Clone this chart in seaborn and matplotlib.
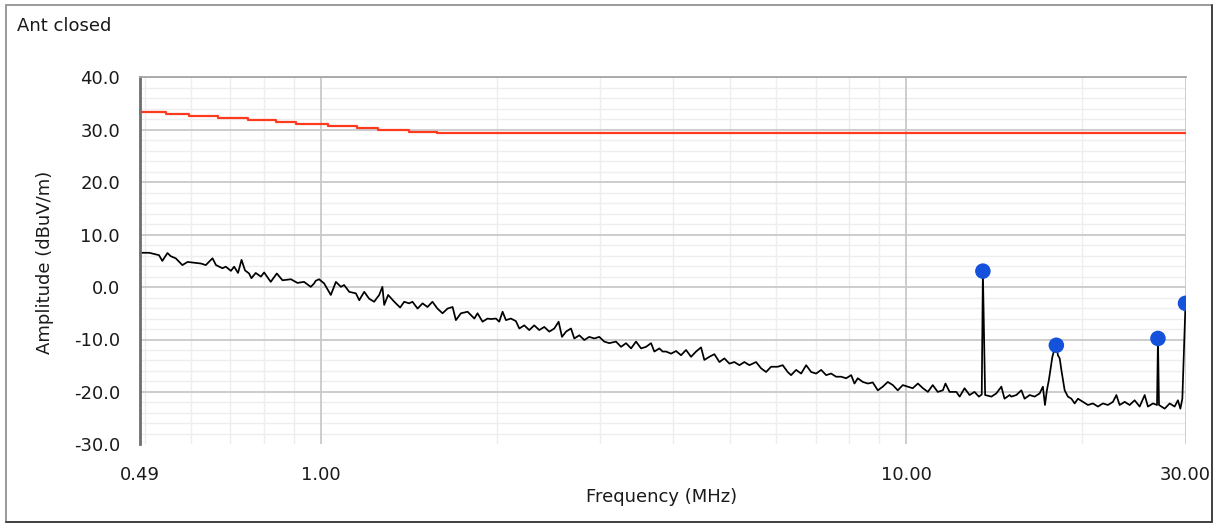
"""Ant closed: radiated emission scan (0.49-30 MHz) with limit line and peaks."""
import seaborn as sns
import matplotlib.pyplot as plt
from matplotlib.lines import Line2D
from matplotlib.ticker import FixedLocator, NullFormatter, MultipleLocator


############################## Data.

# Measured trace (MHz, dBuV/m).
trace_freq = [
    0.49, 0.509, 0.529, 0.536, 0.547, 0.554, 0.565, 0.580, 0.592, 0.624,
    0.636, 0.653, 0.662, 0.679, 0.688, 0.702, 0.711, 0.722, 0.732, 0.742,
    0.754, 0.761, 0.774, 0.790, 0.800, 0.821, 0.841, 0.860, 0.889, 0.912,
    0.936, 0.961, 0.974,
    0.980, 0.993, 1.013, 1.040, 1.061, 1.082, 1.096, 1.118, 1.148, 1.163,
    1.186, 1.209, 1.233, 1.258, 1.274, 1.283, 1.303, 1.335, 1.366, 1.388,
    1.415, 1.434, 1.463, 1.492, 1.521, 1.551, 1.582, 1.614, 1.646, 1.679,
    1.701, 1.735, 1.781, 1.829, 1.852, 1.889, 1.927,
    1.952, 1.991, 2.017, 2.044, 2.071, 2.112, 2.154, 2.183, 2.226, 2.270,
    2.315, 2.361, 2.408, 2.456, 2.505, 2.548, 2.582, 2.623, 2.675, 2.710,
    2.764, 2.819, 2.874, 2.932, 2.990, 3.049, 3.110, 3.193, 3.257, 3.322,
    3.388, 3.455, 3.524, 3.594, 3.665, 3.713, 3.787, 3.836,
    3.888, 3.965, 4.044, 4.124, 4.206, 4.290, 4.375, 4.462, 4.520, 4.610,
    4.702, 4.796, 4.891, 4.988, 5.087, 5.188, 5.291, 5.396, 5.540, 5.650,
    5.763, 5.877, 6.032, 6.152, 6.274, 6.358, 6.486, 6.614, 6.746, 6.880,
    7.017, 7.156, 7.298, 7.443, 7.590,
    7.742, 7.895, 8.054, 8.158, 8.266, 8.430, 8.598, 8.768, 8.943, 9.120,
    9.301, 9.487, 9.674, 9.867, 10.06, 10.26, 10.47, 10.68, 10.89, 11.10,
    11.32, 11.55, 11.67, 11.86, 12.18, 12.34, 12.58, 12.83, 13.08, 13.31,
    13.46, 13.52, 13.58, 13.64, 13.98, 14.25, 14.54, 14.72, 15.02,
    15.12, 15.42, 15.73, 15.93, 16.25, 16.57, 16.90, 17.12, 17.26, 17.39,
    17.53, 17.63, 17.77, 17.93, 18.05, 18.16, 18.29, 18.41, 18.53, 18.65,
    18.89, 19.15, 19.40, 19.65, 20.04, 20.44, 20.84, 21.26, 21.68, 22.11,
    22.55, 22.86, 23.15, 23.62, 24.08, 24.56, 25.05, 25.55, 25.88, 26.40,
    26.82, 26.92, 27.03, 27.64, 28.19, 28.74, 29.12, 29.40, 29.63, 30.0,
]
trace_amp = [
    6.55, 6.55, 6.1, 5.0, 6.5, 5.9, 5.5, 4.2, 4.8, 4.5,
    4.2, 5.5, 4.2, 3.6, 3.9, 3.1, 3.9, 2.7, 5.2, 3.2,
    2.6, 1.7, 2.7, 2.0, 2.8, 1.0, 2.6, 1.3, 1.5, 0.8,
    1.0, 0.05, 0.7,
    1.2, 1.5, 0.7, -1.5, 1.0, 0.05, 0.4, -0.9, -1.2, -2.5,
    -0.9, -2.2, -2.8, -1.5, 0.05, -3.4, -1.5, -2.8, -3.9, -2.8,
    -3.1, -2.8, -4.1, -3.1, -3.8, -2.8, -4.1, -5.0, -4.1, -3.8,
    -6.3, -5.0, -4.7, -6.0, -5.0, -6.6, -6.0,
    -6.1, -6.0, -6.6, -4.7, -6.3, -6.0, -6.5, -7.9, -7.3, -8.2,
    -7.3, -8.2, -7.6, -8.5, -7.9, -6.6, -9.5, -8.5, -7.9, -9.8,
    -9.2, -10.1, -9.5, -9.8, -9.5, -10.4, -10.7, -10.4, -11.4, -10.7,
    -11.7, -10.4, -11.7, -11.4, -10.7, -12.3, -11.7, -12.3,
    -12.3, -12.7, -12.2, -13.0, -12.0, -13.3, -12.3, -11.5, -13.9, -13.3,
    -12.8, -14.3, -13.6, -14.6, -14.3, -14.9, -14.3, -14.9, -14.3, -15.5,
    -16.2, -15.2, -15.2, -14.9, -16.2, -16.8, -15.8, -16.5, -14.9, -16.2,
    -16.5, -15.8, -16.8, -16.5, -17.1,
    -17.1, -17.4, -16.8, -18.4, -17.4, -18.1, -18.4, -18.2, -19.7, -19.0,
    -18.1, -18.7, -19.7, -18.7, -19.0, -19.3, -18.4, -19.3, -20.0, -18.7,
    -20.0, -19.7, -18.4, -20.0, -20.0, -20.9, -19.3, -20.6, -20.0, -20.9,
    -20.5, 3.05, -8.4, -20.6, -20.9, -20.3, -19.0, -21.3, -20.6,
    -20.9, -20.6, -19.7, -21.3, -20.6, -20.9, -20.3, -19.0, -22.5, -19.7,
    -17.7, -15.8, -13.3, -11.7, -11.1, -13.0, -13.6, -15.8, -17.7, -19.7,
    -20.9, -21.3, -22.2, -21.3, -21.9, -22.5, -22.2, -22.8, -22.2, -22.5,
    -21.9, -20.6, -22.5, -21.9, -22.5, -21.6, -22.8, -20.6, -22.8, -22.2,
    -22.5, -9.8, -22.5, -23.2, -22.2, -22.8, -21.6, -23.2, -21.3, -3.1,
]

# Limit line (stepped).
limit_freq = [0.49, 0.544, 0.596, 0.668, 0.751, 0.839, 0.907, 1.029,
              1.154, 1.253, 1.415, 1.580, 30.0]
limit_amp = [33.34, 32.96, 32.58, 32.2, 31.8, 31.43, 31.1, 30.7,
             30.34, 29.96, 29.64, 29.33, 29.33]

# Detected peaks.
peak_freq = [13.52, 18.05, 26.92, 30.0]
peak_amp = [3.05, -11.1, -9.8, -3.1]

# Axis ticks.
xtick_values = [0.49, 1.0, 10.0, 30.0]
xtick_labels = ["0.49", "1.00", "10.00", "30.00"]
xtick_minor = [0.5, 0.6, 0.7, 0.8, 0.9, 2, 3, 4, 5, 6, 7, 8, 9, 20]
ytick_values = [-30, -20, -10, 0, 10, 20, 30, 40]


############################## Plot it.

W, H = 1215, 524
sns.set_style("white")
plt.rcParams["font.family"] = ["DejaVu Sans"]
plt.rcParams["axes.unicode_minus"] = False

fig = plt.figure(figsize=(W / 100, H / 100), dpi=100)
rect = [139.5 / W, 1 - 444.3 / H, 1046 / W, 366.8 / H]
ax = fig.add_axes(rect)
ax.set_xscale("log")

# Background axes carrying only the faint minor grid, so it never covers
# the major grid lines.
bg = fig.add_axes(rect, sharex=ax, sharey=ax, zorder=-1)
ax.patch.set_visible(False)

sns.lineplot(x=trace_freq, y=trace_amp, estimator=None, sort=False,
             color="black", linewidth=1.25, ax=ax)
sns.lineplot(x=limit_freq, y=limit_amp, estimator=None, sort=False,
             drawstyle="steps-post", color="#ff3b1f", linewidth=1.6, ax=ax)
sns.scatterplot(x=peak_freq, y=peak_amp, color="#1552dc", s=125,
                edgecolor="none", zorder=5, ax=ax)

ax.set_xlim(0.49, 30)
ax.set_ylim(-30, 40)
ax.set_xticks(xtick_values)
ax.set_xticklabels(xtick_labels)
ax.xaxis.set_minor_locator(FixedLocator(xtick_minor))
ax.xaxis.set_minor_formatter(NullFormatter())
ax.set_yticks(ytick_values)
ax.set_yticklabels([f"{v:.1f}" for v in ytick_values])
ax.yaxis.set_minor_locator(MultipleLocator(2))

# grid
ax.grid(which="major", color="#c9c9c9", linewidth=1.3)
ax.grid(which="minor", visible=False)
ax.set_axisbelow(True)
ax.yaxis.get_gridlines()[0].set_visible(False)
bg.grid(which="minor", color="#eeeeee", linewidth=1.0)
bg.grid(which="major", visible=False)
bg.tick_params(which="both", length=0, labelleft=False, labelbottom=False)
for s in bg.spines.values():
    s.set_visible(False)

# ticks
ax.tick_params(axis="y", which="major", direction="out", length=9, width=1.2,
               color="#404040", pad=5, labelsize=13, labelcolor="#1a1a1a")
ax.tick_params(axis="y", which="minor", length=0)
ax.tick_params(axis="x", which="major", direction="out", length=6.5, width=1.2,
               color="#404040", pad=4, labelsize=13, labelcolor="#1a1a1a")
ax.tick_params(axis="x", which="minor", direction="out", length=3.5, width=1.2,
               color="#404040")

# spines
ax.spines["bottom"].set_position(("outward", 5))
ax.spines["bottom"].set_color("none")
ax.spines["right"].set_color("none")
ax.spines["top"].set_color("#a6a6a6")
ax.spines["top"].set_linewidth(1.3)
ax.spines["left"].set_color("#6e6e6e")
ax.spines["left"].set_linewidth(2)

# labels
ax.set_xlabel("")
ax.set_ylabel("")
fig.text(17 / W, 1 - 26 / H, "Ant closed", fontsize=13, color="#1a1a1a",
         ha="left", va="center")
fig.text(662 / W, 1 - 497 / H, "Frequency (MHz)", fontsize=13,
         color="#1a1a1a", ha="center", va="center")
fig.text(45 / W, 1 - 262 / H, "Amplitude (dBuV/m)", fontsize=13,
         color="#1a1a1a", ha="center", va="center", rotation=90)

# outer frame
for xs, ys, c in [([5.5, 5.5], [4.5, 522], "#9a9a9a"),
                  ([5.5, 1212], [4.5, 4.5], "#9a9a9a"),
                  ([1212, 1212], [4.5, 522], "#404040"),
                  ([5.5, 1212], [522, 522], "#404040")]:
    fig.add_artist(Line2D([x / W for x in xs], [1 - y / H for y in ys],
                          transform=fig.transFigure, color=c, linewidth=1.4))

fig.savefig("out.png", dpi=100)
plt.close(fig)
